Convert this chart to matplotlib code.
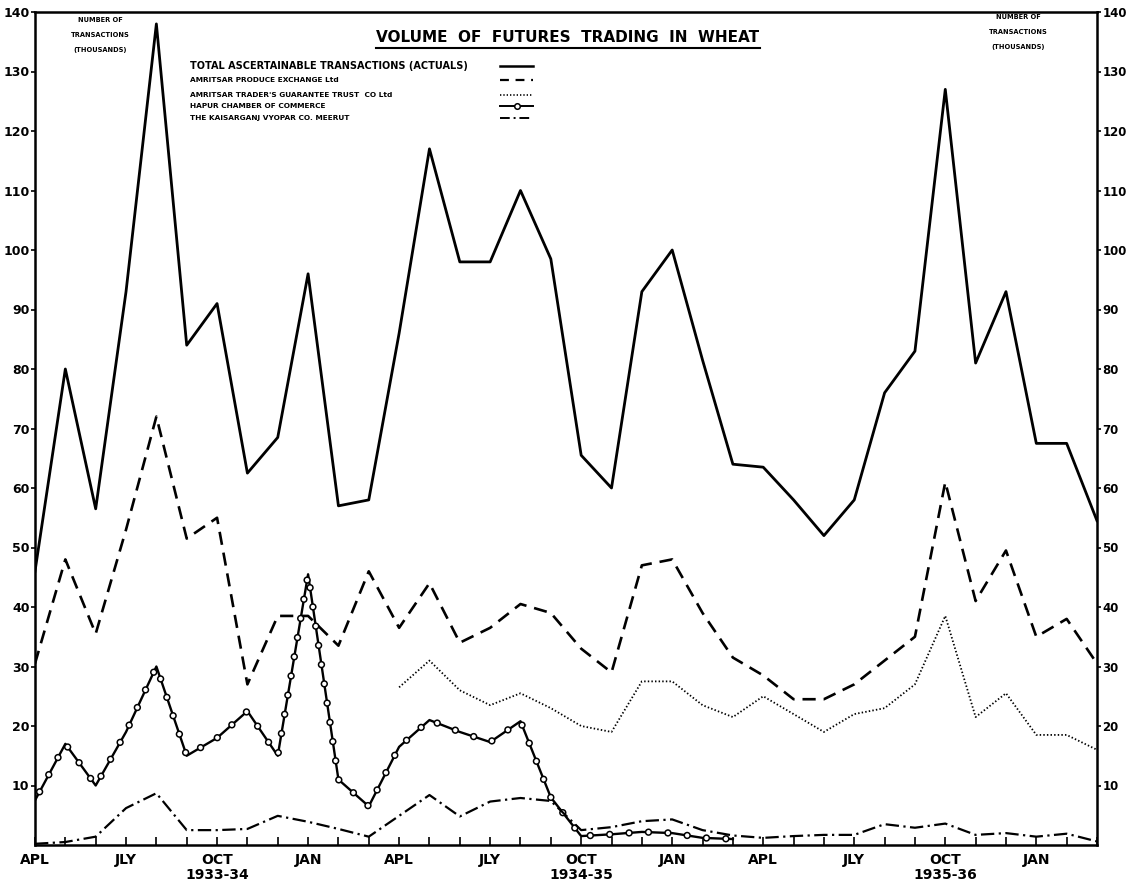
import numpy as np
import matplotlib.pyplot as plt
from matplotlib.lines import Line2D
from matplotlib.patheffects import AbstractPathEffect
from matplotlib.path import Path
from matplotlib.transforms import Affine2D

plt.rcParams['font.family'] = ['DejaVu Sans']
plt.rcParams['font.weight'] = 'bold'

# monthly, Apr 1933 .. Mar 1936 ; number of transactions (thousands)
months = np.arange(36)
quarter_ticks = np.arange(0, 36, 3)
quarter_labels = ["APL", "JLY", "OCT\n1933-34", "JAN",
                  "APL", "JLY", "OCT\n1934-35", "JAN",
                  "APL", "JLY", "OCT\n1935-36", "JAN"]
yticks = np.arange(10, 150, 10)

nan = np.nan
total = [46, 80, 56.5, 93, 138, 84, 91, 62.5, 68.5, 96, 57, 58,
         86, 117, 98, 98, 110, 98.5, 65.5, 60, 93, 100, 81.5, 64,
         63.5, 58, 52, 58, 76, 83, 127, 81, 93, 67.5, 67.5, 54.5]
produce_exchange = [30.5, 48, 35.5, 53, 72, 51.5, 55, 27, 38.5, 38.5, 33.5, 46,
                    36.5, 44, 34, 36.5, 40.5, 39, 33, 29, 47, 48, 39, 31.5,
                    28.5, 24.5, 24.5, 27, 31, 35, 61, 41, 49.5, 35, 38, 30.5]
guarantee_trust = [nan] * 12 + [26.5, 31, 26, 23.5, 25.5, 23, 20, 19, 27.5, 27.5, 23.5, 21.5,
                                25, 22, 19, 22, 23, 27, 38.5, 21.5, 25.5, 18.5, 18.5, 16]
hapur = [7.5, 17, 10, 19, 30, 15, 18, 22.5, 15, 45.5, 11, 6.5,
         16.5, 21, 19, 17.3, 20.8, 8, 1.5, 1.8, 2.2, 2, 1.2, 1.0]
kaisarganj = [0.2, 0.5, 1.4, 6.2, 8.7, 2.5, 2.5, 2.7, 4.9, 3.9, 2.7, 1.4,
              4.9, 8.4, 4.8, 7.3, 7.9, 7.4, 2.5, 3, 4, 4.3, 2.5, 1.6,
              1.2, 1.5, 1.7, 1.7, 3.5, 2.9, 3.6, 1.7, 2, 1.4, 1.9, 0.6]

legend_names = ["TOTAL ASCERTAINABLE TRANSACTIONS (ACTUALS)",
                "AMRITSAR PRODUCE EXCHANGE Ltd",
                "AMRITSAR TRADER'S GUARANTEE TRUST  CO Ltd",
                "HAPUR CHAMBER OF COMMERCE",
                "THE KAISARGANJ VYOPAR CO. MEERUT"]


class RingsAlongPath(AbstractPathEffect):
    # draws the line, then small open rings spaced evenly along it (the "--o--" style)
    def __init__(self, spacing=14, radius=2.1, ring_lw=1.1):
        super().__init__()
        self.spacing = spacing
        self.radius = radius
        self.ring_lw = ring_lw

    def draw_path(self, renderer, gc, tpath, affine, rgbFace=None):
        renderer.draw_path(gc, tpath, affine, rgbFace)
        verts = affine.transform(tpath.vertices)
        seg = np.diff(verts, axis=0)
        cum = np.concatenate([[0], np.cumsum(np.hypot(seg[:, 0], seg[:, 1]))])
        step = renderer.points_to_pixels(self.spacing)
        d = np.arange(step * 0.5, cum[-1], step)
        xs = np.interp(d, cum, verts[:, 0])
        ys = np.interp(d, cum, verts[:, 1])
        g = renderer.new_gc()
        g.copy_properties(gc)
        g.set_linewidth(self.ring_lw)
        g.set_dashes(0, None)
        r = renderer.points_to_pixels(self.radius)
        circ = Path.unit_circle()
        for x, y in zip(xs, ys):
            renderer.draw_path(g, circ, Affine2D().scale(r).translate(x, y), (1, 1, 1))
        g.restore()


W, H = 1128, 884
def fx(px):
    return px / W
def fy(py):
    return 1 - py / H

fig = plt.figure(figsize=(11.28, 8.84), dpi=100)
ax = fig.add_axes([fx(35), fy(845), fx(1097) - fx(35), fy(12) - fy(845)])

ax.plot(months, total, color='black', lw=2.0)
ax.plot(months, produce_exchange, color='black', lw=1.9, linestyle=(0, (5, 3)))
ax.plot(months, guarantee_trust, color='black', lw=1.3, linestyle=(0, (0.8, 1.2)))
ax.plot(months[:len(hapur)], hapur, color='black', lw=1.7,
        path_effects=[RingsAlongPath()])
ax.plot(months, kaisarganj, color='black', lw=1.6, linestyle=(0, (6, 2, 1, 2)))

ax.set_xlim(0, 35)
ax.set_ylim(0, 140)
for s in ax.spines.values():
    s.set_linewidth(1.8)

ax.set_yticks(yticks)
ax.set_yticklabels([str(v) for v in yticks])
ax.tick_params(axis='y', direction='out', length=3, width=1.2, pad=1,
               left=True, right=True, labelleft=True, labelright=True)
for t in ax.yaxis.get_major_ticks():
    t.label1.set_fontsize(9)
    t.label2.set_fontsize(8.5)
ax.set_xticks(months, minor=True)
ax.set_xticks(quarter_ticks)
ax.set_xticklabels(quarter_labels, fontsize=10, linespacing=1.1)
ax.tick_params(axis='x', which='both', direction='in', length=6, width=1.2, pad=6)

# title, underlined
title = fig.text(fx(568), fy(37), "VOLUME  OF  FUTURES  TRADING  IN  WHEAT",
                 ha='center', va='center', fontsize=11)
fig.canvas.draw()
bb = title.get_window_extent()
fig.add_artist(Line2D([bb.x0 / W, bb.x1 / W], [(bb.y0 - 3) / H] * 2,
                      transform=fig.transFigure, color='black', lw=1.5))

# hand-drawn style legend
legend_y = [66, 80, 95, 106, 118]
legend_size = [7, 5.3, 5.3, 5.3, 5.3]
for name, y, fs in zip(legend_names, legend_y, legend_size):
    fig.text(fx(190), fy(y), name, ha='left', va='center', fontsize=fs)

sample_styles = [dict(lw=1.8, linestyle='-'),
                 dict(lw=1.6, linestyle=(0, (4, 3))),
                 dict(lw=1.2, linestyle=(0, (0.8, 1.2))),
                 dict(lw=1.4, linestyle='-', marker='o', markevery=[1], ms=4, mfc='white', mew=1.1),
                 dict(lw=1.4, linestyle=(0, (5, 2, 1, 2)))]
for y, st in zip(legend_y, sample_styles):
    fig.add_artist(Line2D([fx(500), fx(517), fx(533)], [fy(y)] * 3,
                          transform=fig.transFigure, color='black', **st))

# corner notes
for cx, ys in [(100, (20, 35, 50)), (1018, (17, 32, 47))]:
    for txt, y in zip(["NUMBER OF", "TRANSACTIONS", "(THOUSANDS)"], ys):
        fig.text(fx(cx), fy(y), txt, ha='center', va='center', fontsize=4.8)

fig.savefig("out.png", dpi=100)
